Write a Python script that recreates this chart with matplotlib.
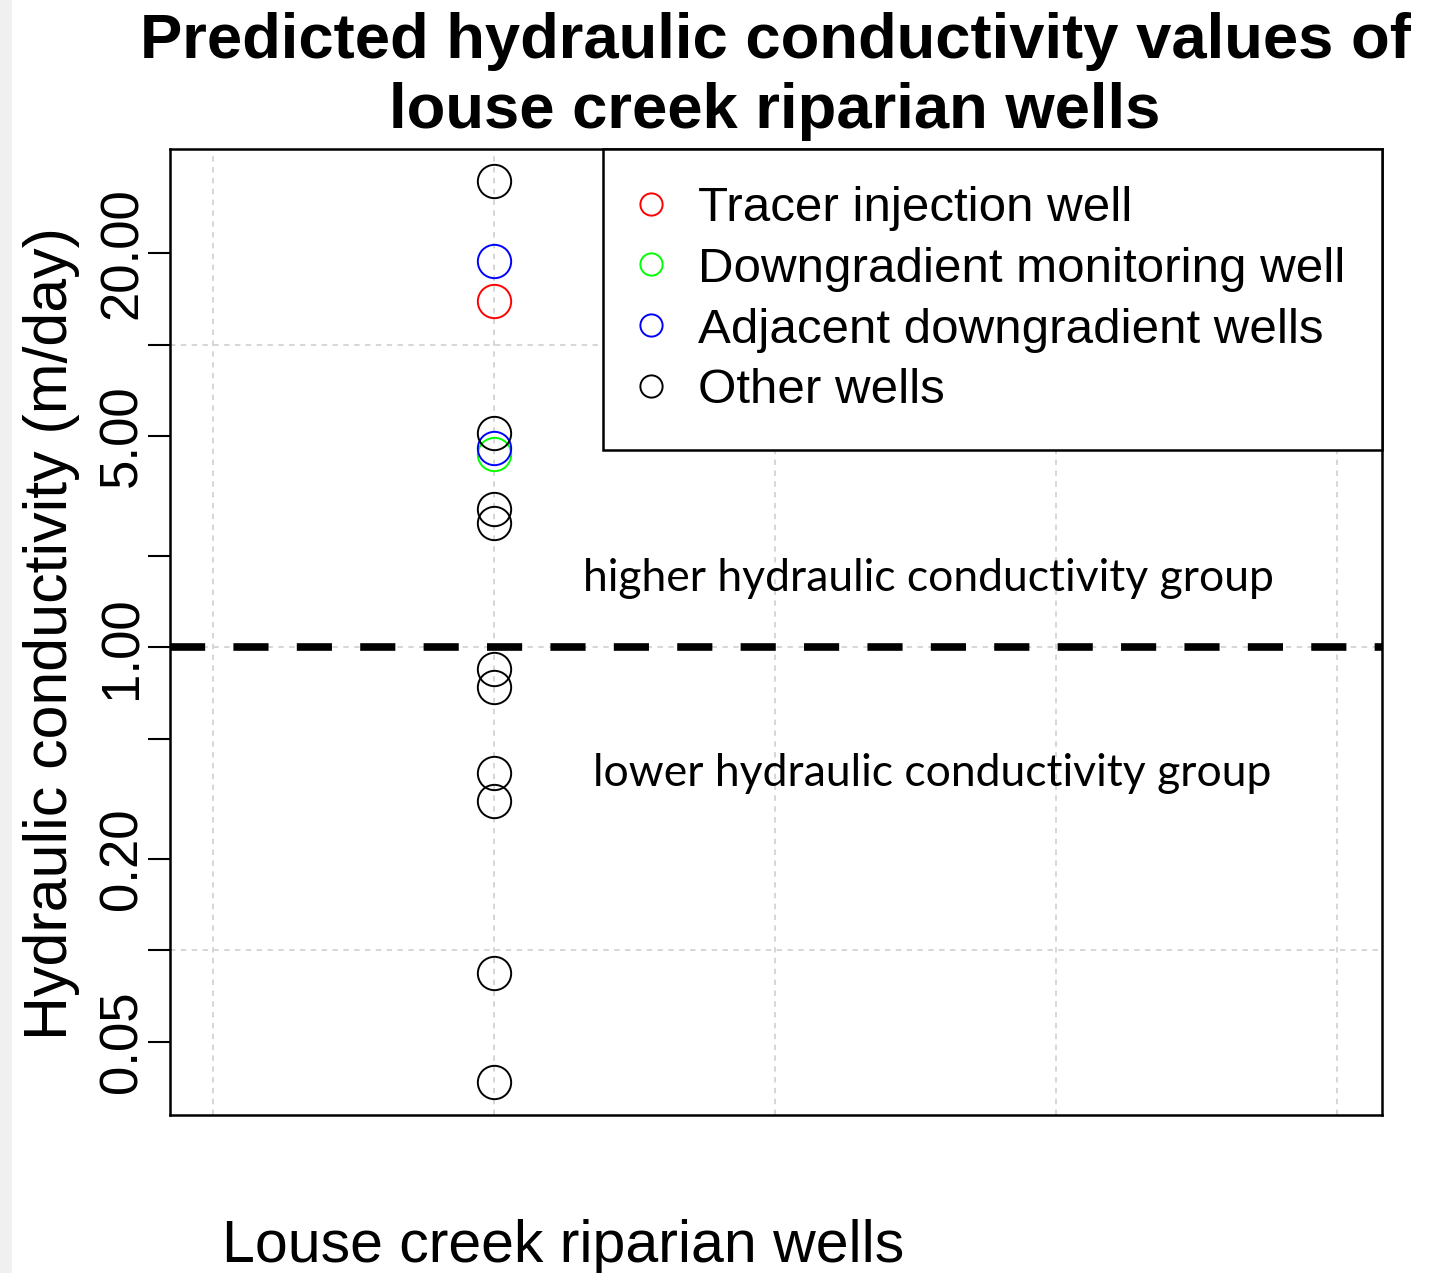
import matplotlib
matplotlib.use("Agg")
import matplotlib.pyplot as plt
from matplotlib.patches import Rectangle
from matplotlib.ticker import FixedLocator, FixedFormatter, NullLocator

# predicted hydraulic conductivity (m/day), one well per value
tracer_k = [13.9]
downgradient_k = [4.36]
adjacent_k = [18.9, 4.56]
other_k = [34.6, 5.10, 2.87, 2.57, 0.850, 0.739, 0.385, 0.311, 0.0844, 0.0368]
well_x = 1  # all wells share one x position

groups = ["Tracer injection well", "Downgradient monitoring well",
          "Adjacent downgradient wells", "Other wells"]
group_values = [tracer_k, downgradient_k, adjacent_k, other_k]
group_colors = ["#ff0000", "#00ff00", "#0000ff", "#000000"]

y_ticks = [0.05, 0.1, 0.2, 0.5, 1, 2, 5, 10, 20]
y_labels = ["0.05", "", "0.20", "", "1.00", "", "5.00", "", "20.00"]
y_grid = [0.1, 1, 10]
x_grid = [0, 1, 2, 3, 4]
threshold = 1.0

plt.rcParams['font.family'] = ['Liberation Sans', 'DejaVu Sans']

fig = plt.figure(figsize=(14.4, 12.73), dpi=100)
fig.patch.set_facecolor('white')
fig.patches.append(Rectangle((0, 0), 12 / 1440, 1, transform=fig.transFigure,
                             facecolor='#f0f0f0', edgecolor='none', zorder=0))

ax = fig.add_axes([170 / 1440, 1 - 1115 / 1273, 1212 / 1440, 966 / 1273])
ax.set_yscale('log')
ax.set_ylim(0.0286, 44.2)
ax.set_xlim(-0.153, 4.160)

# grid like R's grid(): light grey dotted lines
for gx in x_grid:
    ax.axvline(gx, color='#d3d3d3', lw=1.3, ls=(0, (3, 3)), zorder=1)
for gy in y_grid:
    ax.axhline(gy, color='#d3d3d3', lw=1.3, ls=(0, (3, 3)), zorder=1)

for vals, color, name in zip(group_values, group_colors, groups):
    ax.plot([well_x] * len(vals), vals, ls='none', marker='o', ms=24,
            mfc='none', mec=color, mew=1.4, label=name, zorder=3)

ax.axhline(threshold, color='black', lw=5.5, ls=(0, (4.6, 3.7)), zorder=4)

ax.yaxis.set_major_locator(FixedLocator(y_ticks))
ax.yaxis.set_major_formatter(FixedFormatter(y_labels))
ax.yaxis.set_minor_locator(NullLocator())
ax.tick_params(axis='y', which='major', length=16, width=1.5, labelsize=38, pad=0)
for lab in ax.get_yticklabels():
    lab.set_rotation(90)
    lab.set_va('center')
ax.set_xticks([])
for sp in ax.spines.values():
    sp.set_linewidth(1.8)

leg = ax.legend(loc='upper right', borderaxespad=0, fontsize=35.5, frameon=True,
                fancybox=False, edgecolor='black', framealpha=1,
                markerscale=16 / 24, handlelength=0.43, handletextpad=0.74,
                borderpad=0.75, labelspacing=0.32)
leg.get_frame().set_linewidth(1.8)
leg.set_zorder(5)

ax.text(0.6254, 0.5559, "higher hydraulic conductivity group", transform=ax.transAxes,
        ha='center', va='center', fontsize=32, family=['Lato', 'DejaVu Sans'], zorder=5)
ax.text(0.6287, 0.354, "lower hydraulic conductivity group", transform=ax.transAxes,
        ha='center', va='center', fontsize=32, family=['Lato', 'DejaVu Sans'], zorder=5)

fig.text(775 / 1440, 1 - 12 / 1273,
         "Predicted hydraulic conductivity values of\nlouse creek riparian wells",
         ha='center', va='top', fontsize=45.6, fontweight='bold', linespacing=1.24)
fig.text(52 / 1440, 1 - 634 / 1273, "Hydraulic conductivity (m/day)",
         rotation=90, ha='center', va='center', fontsize=43.8)
fig.text(563 / 1440, 1 - 1262 / 1273, "Louse creek riparian wells",
         ha='center', va='baseline', fontsize=42.5)

fig.savefig("out.png", dpi=100, facecolor='white')
plt.close(fig)
